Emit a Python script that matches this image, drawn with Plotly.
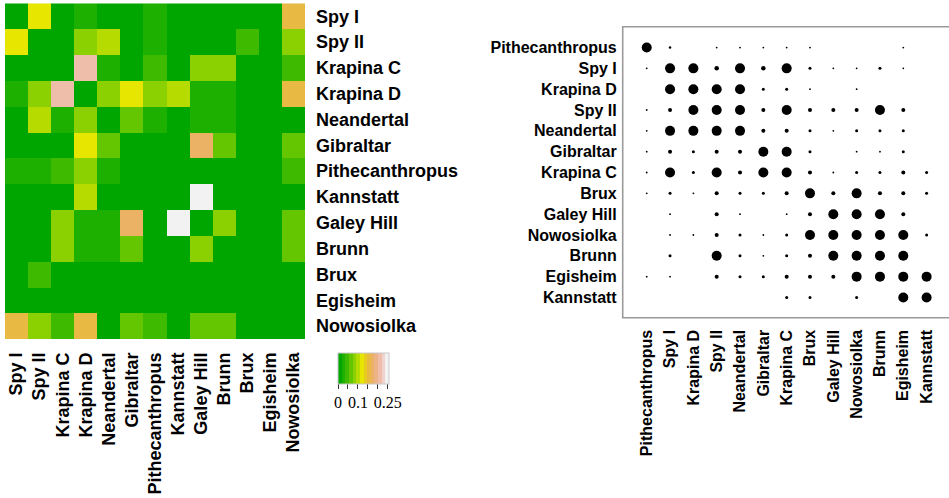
import colorsys
import plotly.graph_objects as go

# ---------------- data ----------------
heat_labels = ["Spy I", "Spy II", "Krapina C", "Krapina D", "Neandertal", "Gibraltar",
               "Pithecanthropus", "Kannstatt", "Galey Hill", "Brunn", "Brux", "Egisheim",
               "Nowosiolka"]

heat_values = [
    [0.0, 0.12, 0.0, 0.027, 0.0, 0.0, 0.027, 0.0, 0.0, 0.0, 0.0, 0.0, 0.155],
    [0.12, 0.0, 0.0, 0.082, 0.1, 0.0, 0.027, 0.0, 0.0, 0.0, 0.046, 0.0, 0.082],
    [0.0, 0.0, 0.0, 0.21, 0.027, 0.0, 0.046, 0.0, 0.082, 0.082, 0.0, 0.0, 0.046],
    [0.027, 0.082, 0.21, 0.0, 0.082, 0.12, 0.082, 0.1, 0.027, 0.027, 0.0, 0.0, 0.155],
    [0.0, 0.1, 0.027, 0.082, 0.0, 0.064, 0.027, 0.0, 0.027, 0.027, 0.0, 0.0, 0.0],
    [0.0, 0.0, 0.0, 0.12, 0.064, 0.0, 0.0, 0.0, 0.175, 0.064, 0.0, 0.0, 0.064],
    [0.027, 0.027, 0.046, 0.082, 0.027, 0.0, 0.0, 0.0, 0.0, 0.0, 0.0, 0.0, 0.046],
    [0.0, 0.0, 0.0, 0.1, 0.0, 0.0, 0.0, 0.0, 0.247, 0.0, 0.0, 0.0, 0.0],
    [0.0, 0.0, 0.082, 0.027, 0.027, 0.175, 0.0, 0.247, 0.0, 0.082, 0.0, 0.0, 0.064],
    [0.0, 0.0, 0.082, 0.027, 0.027, 0.064, 0.0, 0.0, 0.082, 0.0, 0.0, 0.0, 0.064],
    [0.0, 0.046, 0.0, 0.0, 0.0, 0.0, 0.0, 0.0, 0.0, 0.0, 0.0, 0.0, 0.0],
    [0.0, 0.0, 0.0, 0.0, 0.0, 0.0, 0.0, 0.0, 0.0, 0.0, 0.0, 0.0, 0.0],
    [0.155, 0.082, 0.046, 0.155, 0.0, 0.064, 0.046, 0.0, 0.064, 0.064, 0.0, 0.0, 0.0],
]

colorbar_ticks = [0, 0.05, 0.1, 0.15, 0.2, 0.25]
colorbar_ticktext = ["0", "", "0.1", "", "", "0.25"]

dot_labels = ["Pithecanthropus", "Spy I", "Krapina D", "Spy II", "Neandertal", "Gibraltar",
              "Krapina C", "Brux", "Galey Hill", "Nowosiolka", "Brunn", "Egisheim", "Kannstatt"]

dot_values = [
    [1.0, 0.25, 0, 0.18, 0.18, 0.18, 0.18, 0.18, 0, 0, 0, 0.18, 0],
    [0.18, 1.0, 1.0, 0.45, 1.0, 0.45, 1.0, 0.3, 0.18, 0.18, 0.3, 0.18, 0],
    [0, 1.0, 1.0, 1.0, 1.0, 0.3, 0.3, 0.18, 0, 0.18, 0, 0, 0],
    [0.18, 0.4, 1.0, 1.0, 1.0, 0.4, 1.0, 0.4, 0.4, 0.4, 1.0, 0.4, 0],
    [0.18, 1.0, 1.0, 1.0, 1.0, 0.4, 0.4, 0.3, 0.18, 0.3, 0.3, 0.3, 0],
    [0.18, 0.4, 0.3, 0.4, 0.4, 1.0, 1.0, 0.3, 0, 0.18, 0.18, 0.3, 0],
    [0.18, 1.0, 0.3, 1.0, 0.4, 1.0, 1.0, 0.4, 0.18, 0.3, 0.3, 0.4, 0.3],
    [0.18, 0.3, 0.18, 0.4, 0.3, 0.3, 0.4, 1.0, 0.4, 1.0, 0.4, 0.4, 0.3],
    [0, 0.18, 0, 0.4, 0.18, 0, 0.18, 0.4, 1.0, 1.0, 1.0, 0.4, 0],
    [0, 0.18, 0.18, 0.4, 0.3, 0.18, 0.3, 1.0, 1.0, 1.0, 1.0, 1.0, 0.3],
    [0, 0.3, 0, 1.0, 0.3, 0.18, 0.3, 0.4, 1.0, 1.0, 1.0, 1.0, 0],
    [0.18, 0.18, 0, 0.4, 0.3, 0.3, 0.4, 0.4, 0.4, 1.0, 1.0, 1.0, 1.0],
    [0, 0, 0, 0, 0, 0, 0.3, 0.3, 0, 0.3, 0, 1.0, 1.0],
]

# ---------------- styling helpers ----------------
W, H = 949, 498


def terrain_colors(n):
    k = n // 2
    cols = []
    for i in range(k):
        t = i / (k - 1)
        h = 4 / 12 + (2 / 12 - 4 / 12) * t
        v = 0.65 + (0.9 - 0.65) * t
        cols.append(colorsys.hsv_to_rgb(h, 1.0, v))
    m = n - k
    for i in range(1, m + 1):
        t = i / m
        h = 2 / 12 * (1 - t)
        s = 1 - t
        v = 0.9 + 0.05 * t
        cols.append(colorsys.hsv_to_rgb(h, s, v))
    return ["#%02X%02X%02X" % tuple(int(round(c * 255)) for c in rgb) for rgb in cols]


NCOL = 14
pal = terrain_colors(NCOL)
cscale = []
for i, c in enumerate(pal):
    cscale.append([i / NCOL, c])
    cscale.append([(i + 1) / NCOL, c])

ZMIN, ZMAX = 0.0, 0.256


def px_x(p):
    return p / W


def px_y(p):
    return 1 - p / H


bold18 = dict(family="Liberation Sans, Arial, sans-serif", size=18, color="black", weight="bold")
bold16 = dict(family="Liberation Sans, Arial, sans-serif", size=16, color="black", weight="bold")

fig = go.Figure()

fig.add_trace(go.Heatmap(
    z=heat_values, x=heat_labels, y=heat_labels,
    colorscale=cscale, zmin=ZMIN, zmax=ZMAX,
    xaxis="x", yaxis="y", hoverinfo="x+y+z",
    colorbar=dict(
        orientation="h", x=px_x(338), xanchor="left", y=px_y(353), yanchor="top",
        lenmode="pixels", len=51, thicknessmode="pixels", thickness=31,
        xpad=0, ypad=0, outlinewidth=1, outlinecolor="#c8c8c8",
        tickmode="array", tickvals=colorbar_ticks, ticktext=colorbar_ticktext,
        ticks="outside", ticklen=5, tickwidth=1, tickcolor="#333",
        tickfont=dict(family="Liberation Serif, Times New Roman, serif", size=16, color="black"),
    ),
))

# dot plot
xs, ys, sizes = [], [], []
for r, row in enumerate(dot_values):
    for c, v in enumerate(row):
        if v > 0:
            xs.append(c)
            ys.append(r)
            sizes.append(v * 10)

fig.add_trace(go.Scatter(
    x=xs, y=ys, mode="markers", xaxis="x2", yaxis="y2",
    marker=dict(size=sizes, color="black", opacity=1, line=dict(width=0)),
    showlegend=False, hoverinfo="skip",
))

fig.update_layout(
    width=W, height=H,
    margin=dict(l=0, r=0, t=0, b=0, autoexpand=False),
    paper_bgcolor="white", plot_bgcolor="white",
    showlegend=False,
    xaxis=dict(domain=[px_x(5), px_x(305)], type="category",
               categoryorder="array", categoryarray=heat_labels,
               tickangle=-90, tickfont=bold18, ticks="", showgrid=False,
               zeroline=False, showline=False, ticklabelstandoff=9),
    yaxis=dict(domain=[px_y(339), px_y(3.3)], type="category",
               categoryorder="array", categoryarray=heat_labels,
               autorange="reversed", side="right", tickfont=bold18, ticks="",
               showgrid=False, zeroline=False, showline=False, ticklabelstandoff=10),
    xaxis2=dict(domain=[px_x(622.7), 1.0], anchor="y2", range=[-1.03, 12.96],
                tickmode="array", tickvals=list(range(len(dot_labels))), ticktext=dot_labels,
                tickangle=-90, tickfont=bold16, ticks="", showgrid=False,
                zeroline=False, showline=False, ticklabelstandoff=8),
    yaxis2=dict(domain=[px_y(317.7), px_y(26.7)], anchor="x2", range=[12.97, -1.0],
                tickmode="array", tickvals=list(range(len(dot_labels))), ticktext=dot_labels,
                tickfont=bold16, ticks="", showgrid=False, zeroline=False,
                showline=False, ticklabelstandoff=5),
    shapes=[dict(type="rect", xref="paper", yref="paper",
                 x0=px_x(622.7), x1=px_x(952), y0=px_y(317.7), y1=px_y(26.7),
                 line=dict(color="#9a9a9a", width=1.6), fillcolor="rgba(0,0,0,0)")],
)

fig.write_html(
    "out.html",
    config={"displayModeBar": False},
    post_script="document.body.style.margin='0';document.body.style.padding='0';",
)
